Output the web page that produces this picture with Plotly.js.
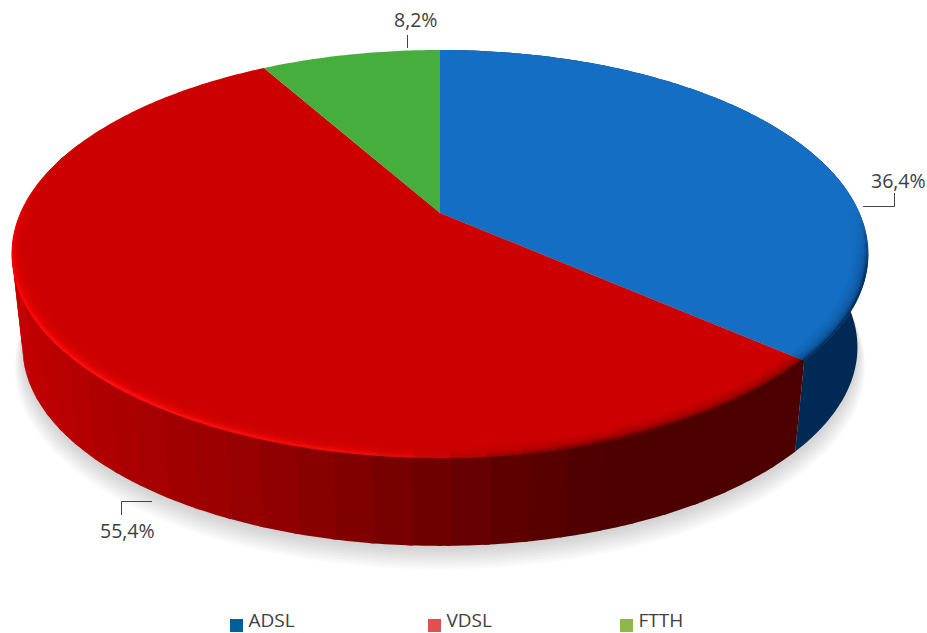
<!DOCTYPE html>
<html>
<head>
<meta charset="utf-8">
<script src="https://cdn.plot.ly/plotly-3.0.1.min.js"></script>
<style>html,body{margin:0;padding:0;background:#fff}#chart{width:927px;height:633px}</style>
</head>
<body>
<div id="chart"></div>
<script>
// Data
const categories = ['ADSL', 'VDSL', 'FTTH'];
const shares = [36.4, 55.4, 8.2];
const faceColors = ['#146EC3', '#CC0000', '#45AE3C'];
const legendColors = ['#00609C', '#E05050', '#8CB84C'];

// Perspective view of the disc, in page pixels
const view = {cx: 440, cy: 213, A: 419.5, B: 195.6, k: 0.2, depth: 94.5, floor: 0.975};
function proj(t, r, low) {
  const u = r * Math.sin(t), v = r * Math.cos(t), w = 1 + view.k * v;
  const s = low ? view.floor : 1;
  return [view.cx + s * view.A * u / w, view.cy + (low ? view.depth : 0) - s * view.B * v / w];
}
function arc(t0, t1, r, low) {
  const n = Math.max(2, Math.ceil(Math.abs(t1 - t0) / 0.012)), pts = [];
  for (let i = 0; i <= n; i++) pts.push(proj(t0 + (t1 - t0) * i / n, r, low));
  return pts;
}
const base = {type: 'scatter', mode: 'none', hoverinfo: 'skip', showlegend: false};
function poly(pts, fill) {
  const xs = pts.map(p => p[0]).concat(pts[0][0]);
  const ys = pts.map(p => p[1]).concat(pts[0][1]);
  return Object.assign({}, base, {x: xs, y: ys, fill: 'toself', fillcolor: fill});
}
function stroke(pts, color, width) {
  return Object.assign({}, base, {mode: 'lines', x: pts.map(p => p[0]), y: pts.map(p => p[1]),
    line: {color: color, width: width, simplify: false}});
}
function lerpStops(stops, f) {
  for (let i = 1; i < stops.length; i++) {
    if (f <= stops[i][0]) {
      const a = stops[i - 1], b = stops[i], m = (f - a[0]) / (b[0] - a[0]);
      return a.slice(1).map((v, j) => v + (b[j + 1] - v) * m);
    }
  }
  return stops[stops.length - 1].slice(1);
}
const rgb = c => 'rgb(' + c.map(Math.round).join(',') + ')';
const rgba = (c, a) => 'rgba(' + c.map(Math.round).join(',') + ',' + a.toFixed(3) + ')';

const traces = [];
const TAU = Math.PI * 2;

// Start and end angle of each slice, from the shares
const total = shares.reduce((a, b) => a + b, 0);
let acc = 0;
const slices = shares.map(v => { const s = [acc / total * TAU, (acc + v) / total * TAU]; acc += v; return s; });

// Soft shadow under the disc
for (let i = 0; i < 10; i++) {
  const r = 1.018 - i * 0.0025;
  const dy = 18 - i * 1.8;
  const pts = arc(0, TAU, r, true).map(p => [p[0], p[1] + dy]);
  traces.push(poly(pts, 'rgba(90,90,90,0.032)'));
}

// Side wall: ADSL flat dark blue
traces.push(poly(arc(slices[0][0], slices[0][1], 1, false).concat(arc(slices[0][1], slices[0][0], 1, true)), '#002A56'));

// Side wall: VDSL in narrow bands, darkening from left to right
const wallStops = [[0, 196, 0, 0], [0.12, 172, 0, 0], [0.3, 150, 0, 0], [0.46, 122, 0, 0], [0.62, 96, 0, 0], [0.74, 78, 0, 0], [1, 76, 0, 0]];
const bands = 46;
for (let i = 0; i < bands; i++) {
  const t0 = slices[1][0] + (slices[1][1] - slices[1][0]) * i / bands;
  const t1 = slices[1][0] + (slices[1][1] - slices[1][0]) * (i + 1.15) / bands;
  const mid = (t0 + t1) / 2;
  if (Math.cos(mid) > 0.35) continue;
  const x = proj(mid, 1, false)[0];
  const c = rgb(lerpStops(wallStops, (x - 12) / 790));
  traces.push(poly(arc(t0, t1, 1, false).concat(arc(t1, t0, 1, true)), c));
}

// Top faces
slices.forEach((s, i) => {
  traces.push(poly([[view.cx, view.cy]].concat(arc(s[0], s[1], 1, false)), faceColors[i]));
});

// Bevel along the front rim: nested soft strokes that fade inward
const rimLayers = [[0.966, 0.05], [0.9715, 0.09], [0.977, 0.14], [0.9825, 0.22], [0.988, 0.35], [0.9935, 0.6], [0.998, 1]];
const rimStops = [[0, 60, 0, 0], [0.12, 85, 0, 0], [0.22, 170, 0, 0], [0.28, 235, 10, 10], [0.45, 255, 15, 15], [0.7, 245, 0, 0], [0.85, 204, 0, 0], [1, 204, 0, 0]];
const rimSteps = 50;
for (let i = 0; i < rimSteps; i++) {
  const f = (i + 0.5) / rimSteps;
  if (f > 0.78) continue;
  const t0 = slices[1][0] + (slices[1][1] - slices[1][0]) * i / rimSteps;
  const t1 = slices[1][0] + (slices[1][1] - slices[1][0]) * (i + 1) / rimSteps;
  const fade = f > 0.6 ? (0.78 - f) / 0.18 : 1;
  const c = lerpStops(rimStops, f);
  rimLayers.forEach(l => traces.push(stroke(arc(t0, t1, l[0], false), rgba(c, l[1] * fade), 2.5)));
}
const blueDark = [6, 50, 100];
const blueStart = Math.PI * 0.5, blueSteps = 14;
for (let i = 0; i < blueSteps; i++) {
  const f = (i + 0.5) / blueSteps;
  const t0 = blueStart + (slices[0][1] - blueStart) * i / blueSteps;
  const t1 = blueStart + (slices[0][1] - blueStart) * (i + 1) / blueSteps;
  const fade = Math.min(1, f / 0.4);
  rimLayers.forEach(l => traces.push(stroke(arc(t0, t1, l[0], false), rgba(blueDark, l[1] * fade), 2.5)));
}

// Legend entries
const legendFont = {family: '"Open Sans", "Noto Sans", sans-serif', size: 19, color: '#404040'};
const legendX = [236.5, 434.5, 626.5];
categories.forEach((name, i) => {
  traces.push(Object.assign({}, base, {mode: 'markers', x: [legendX[i]], y: [625.5], name: name,
    marker: {symbol: 'square', size: 13, color: legendColors[i]}}));
  traces.push(Object.assign({}, base, {mode: 'text', x: [legendX[i] + 12], y: [622.5], name: name,
    text: [name], textposition: 'middle right', textfont: legendFont, cliponaxis: false}));
});

const labelText = shares.map(v => String(v).replace('.', ',') + '%');
const textFont = {family: '"Open Sans", "Noto Sans", sans-serif', size: 19.5, color: '#404040'};
const leaderLine = {color: '#444444', width: 1};

const layout = {
  width: 927, height: 633,
  margin: {l: 0, r: 0, t: 0, b: 0},
  paper_bgcolor: '#ffffff', plot_bgcolor: '#ffffff',
  xaxis: {range: [0, 927], visible: false, fixedrange: true},
  yaxis: {range: [633, 0], visible: false, fixedrange: true},
  showlegend: false,
  annotations: [
    {x: 898.5, y: 180, text: labelText[0], showarrow: false, font: textFont},
    {x: 127, y: 530, text: labelText[1], showarrow: false, font: textFont},
    {x: 415, y: 19.5, text: labelText[2], showarrow: false, font: textFont}
  ],
  shapes: [
    {type: 'path', path: 'M863,206.5 L894.5,206.5 L894.5,193', line: leaderLine},
    {type: 'path', path: 'M152,501.5 L121.5,501.5 L121.5,515', line: leaderLine},
    {type: 'path', path: 'M407.5,35 L407.5,48', line: leaderLine}
  ]
};
Plotly.newPlot('chart', traces, layout, {displayModeBar: false, staticPlot: true});
</script>
</body>
</html>
